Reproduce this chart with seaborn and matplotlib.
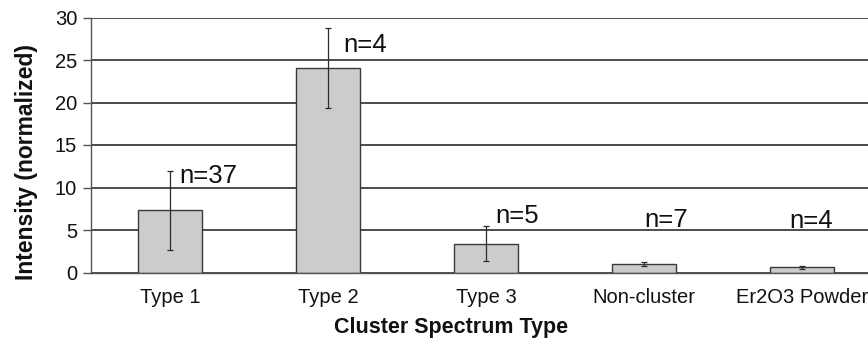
import matplotlib
matplotlib.use("Agg")
import matplotlib.pyplot as plt
import seaborn as sns
import pandas as pd
import numpy as np

# ---- data ----
categories = ["Type 1", "Type 2", "Type 3", "Non-cluster", "Er2O3 Powder"]
intensity = [7.3, 24.1, 3.4, 1.0, 0.6]
error = [4.6, 4.7, 2.1, 0.2, 0.18]
n_labels = ["n=37", "n=4", "n=5", "n=7", "n=4"]

# label placement (layout only)
label_y = [10.5, 25.9, 5.8, 5.4, 5.2]
label_dx = [0.06, 0.10, 0.06, 0.0, -0.08]

df = pd.DataFrame({"cat": categories, "val": intensity})

sns.set_theme(style="white")
plt.rcParams["font.family"] = ["Liberation Sans", "DejaVu Sans"]

fig = plt.figure(figsize=(8.68, 3.44), dpi=100)
ax = fig.add_axes([91 / 868, (344 - 272.5) / 344, 790 / 868, (272.5 - 17.5) / 344])

sns.barplot(data=df, x="cat", y="val", color="#cccccc", edgecolor="#3a3a3a",
            linewidth=1.0, width=0.4, errorbar=None, ax=ax, saturation=1)
ax.errorbar(x=np.arange(len(categories)), y=intensity, yerr=error, fmt="none",
            ecolor="#2a2a2a", elinewidth=0.9, capsize=2.5, capthick=0.9, zorder=5)

for i, (lab, yy, dx) in enumerate(zip(n_labels, label_y, label_dx)):
    ax.text(i + dx, yy, lab, fontsize=18.5, color="#111111", ha="left", va="baseline")

ax.set_ylim(0, 30)
ax.set_xlim(-0.5, len(categories) - 0.5)
ax.set_yticks(range(0, 31, 5))
ax.yaxis.grid(True, color="#2e2e2e", linewidth=1.2)
ax.xaxis.grid(False)
ax.set_axisbelow(True)

ax.set_xticks(range(len(categories)))
ax.set_xticklabels(categories)
ax.set_xticks(np.arange(-0.5, len(categories), 1.0), minor=True)
ax.tick_params(axis="x", which="major", length=0, pad=11, labelsize=14.5, colors="#111111")
ax.tick_params(axis="x", which="minor", length=6, width=1.0, color="#555555", direction="out")
ax.tick_params(axis="y", which="major", length=6, width=1.0, color="#555555",
               direction="out", labelsize=14.5, labelcolor="#111111", pad=4, left=True)

for s in ["top", "right"]:
    ax.spines[s].set_visible(False)
for s in ["left", "bottom"]:
    ax.spines[s].set_color("#555555")
    ax.spines[s].set_linewidth(1.0)

ax.set_xlabel("")
ax.set_ylabel("")
fig.text(451 / 868, (344 - 327) / 344, "Cluster Spectrum Type", ha="center", va="center",
         fontsize=15.5, fontweight="bold", color="#111111")
fig.text(27 / 868, (344 - 162) / 344, "Intensity (normalized)", ha="center", va="center",
         rotation=90, fontsize=16.5, fontweight="bold", color="#111111")

fig.savefig("out.png", dpi=100)
